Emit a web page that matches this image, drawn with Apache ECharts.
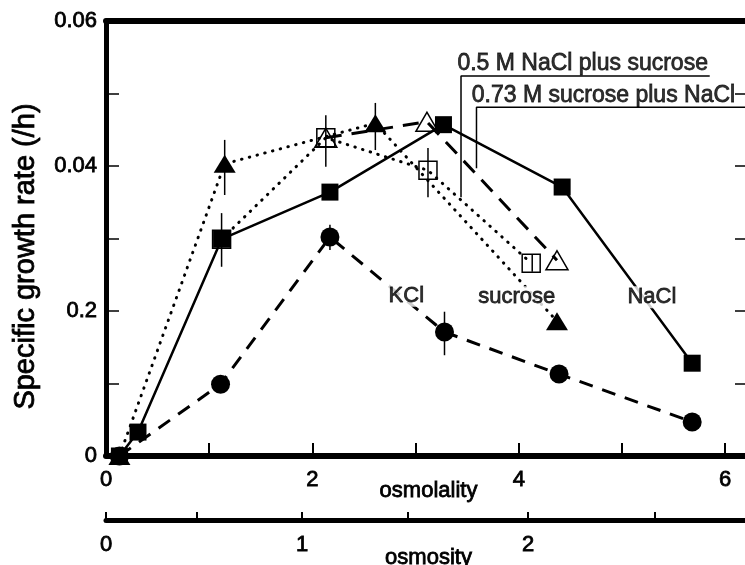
<!DOCTYPE html>
<html>
<head>
<meta charset="utf-8">
<script src="https://cdn.jsdelivr.net/npm/echarts@6/dist/echarts.min.js"></script>
<style>
  html, body { margin: 0; padding: 0; background: #fff; }
  #chart { width: 745px; height: 565px; }
</style>
</head>
<body>
<div id="chart"></div>
<script>
// values (x = osmolality, y = specific growth rate /h)
const naclX = [0.13, 0.31, 1.12, 2.17, 3.27, 4.42, 5.68];
const naclY = [0, 0.0033, 0.0299, 0.0364, 0.0457, 0.0371, 0.0128];
const kclX = [0.13, 1.11, 2.17, 3.28, 4.39, 5.68];
const kclY = [0, 0.0099, 0.0302, 0.0171, 0.0113, 0.0047];
const sucX = [0.13, 1.15, 2.61, 4.37];
const sucY = [0, 0.0403, 0.0459, 0.0186];
const naclSucX = [1.12, 2.13, 3.12, 4.12];
const naclSucY = [0.0299, 0.0439, 0.0394, 0.0266];
const sucNaclX = [2.13, 3.11, 4.37];
const sucNaclY = [0.0439, 0.0461, 0.027];

// error bars: x, low, high
const errX = [1.15, 1.12, 2.13, 2.61, 3.12, 3.28, 2.17, 4.13];
const errLo = [0.036, 0.0261, 0.0399, 0.0422, 0.0357, 0.0139, 0.0284, 0.0254];
const errHi = [0.0436, 0.0335, 0.047, 0.0487, 0.0425, 0.0199, 0.0319, 0.0278];

// tick labels
const xLabelVals = [0, 2, 4, 6];
const yLabelVals = [0, 0.02, 0.04, 0.06];
const yLabelText = ['0', '0.2', '0.04', '0.06'];
// osmosity ticks, placed on the osmolality scale
const osmosityTickPos = [0, 0.88, 1.9, 2.92, 4.09, 5.32];
const osmosityLabelPos = [0, 1.9, 4.09];
const osmosityLabelText = ['0', '1', '2'];

// in-plot text
const curveNames = ['KCl', 'sucrose', 'NaCl'];
const curveNameX = [2.91, 3.98, 5.29];
const curveNameY = [0.0221, 0.0219, 0.0219];
const noteText = ['0.5 M NaCl plus sucrose', '0.73 M sucrose plus NaCl'];
const noteX = [3.4, 3.54];
const noteY = [0.0541, 0.0497];
const leader1 = [[3.44, 0.0357], [3.44, 0.0524], [5.85, 0.0524]];
const leader2 = [[3.59, 0.0397], [3.59, 0.0481], [6.25, 0.0481]];

const font = 'Liberation Sans, Arial, Helvetica, sans-serif';
const ink = { color: '#000', fontFamily: font, textBorderColor: '#000', textBorderWidth: 0.8 };
const zip = (xs, ys) => xs.map((x, i) => [x, ys[i]]);

const chart = echarts.init(document.getElementById('chart'));

const baseSeries = {
  type: 'line',
  xAxisIndex: 0,
  yAxisIndex: 0,
  silent: true,
  emphasis: { disabled: true },
  showAllSymbol: true
};

chart.setOption({
  animation: false,
  backgroundColor: '#fff',
  textStyle: { fontFamily: font, color: '#000' },
  grid: [
    { left: 106, right: -6, top: 21, bottom: 109, outerBoundsMode: 'none' },
    { left: 106, right: -6, top: 500, bottom: 45, outerBoundsMode: 'none' }
  ],
  xAxis: [
    {
      gridIndex: 0,
      type: 'value',
      position: 'bottom',
      min: 0,
      max: 6.25,
      interval: 1,
      name: 'osmolality',
      nameLocation: 'middle',
      nameGap: 24,
      nameMoveOverlap: false,
      nameTextStyle: Object.assign({ fontSize: 22 }, ink),
      axisLine: { onZero: false, lineStyle: { color: '#000', width: 6 } },
      axisTick: { inside: true, length: 13, lineStyle: { color: '#000', width: 2 } },
      axisLabel: Object.assign({ customValues: xLabelVals, margin: 13, fontSize: 22 }, ink),
      splitLine: { show: false }
    },
    {
      gridIndex: 0,
      type: 'value',
      position: 'top',
      min: 0,
      max: 6.25,
      axisLine: { onZero: false, lineStyle: { color: '#000', width: 6 } },
      axisTick: { show: false },
      axisLabel: { show: false },
      splitLine: { show: false }
    },
    {
      gridIndex: 1,
      type: 'value',
      position: 'bottom',
      min: 0,
      max: 6.25,
      name: 'osmosity',
      nameLocation: 'middle',
      nameGap: 27,
      nameMoveOverlap: false,
      nameTextStyle: Object.assign({ fontSize: 22 }, ink),
      axisLine: { onZero: false, lineStyle: { color: '#000', width: 5 } },
      axisTick: {
        inside: true,
        length: 8,
        customValues: osmosityTickPos,
        lineStyle: { color: '#000', width: 2 }
      },
      axisLabel: Object.assign({
        customValues: osmosityLabelPos,
        margin: 14,
        fontSize: 22,
        formatter: v => {
          const i = osmosityLabelPos.findIndex(p => Math.abs(p - v) < 1e-6);
          return i >= 0 ? osmosityLabelText[i] : '';
        }
      }, ink),
      splitLine: { show: false }
    }
  ],
  yAxis: [
    {
      gridIndex: 0,
      type: 'value',
      position: 'left',
      min: 0,
      max: 0.06,
      interval: 0.01,
      name: 'Specific growth rate (/h)',
      nameLocation: 'middle',
      nameGap: 66,
      nameMoveOverlap: false,
      nameTextStyle: Object.assign({ fontSize: 29, padding: [0, 36, 0, 0] }, ink),
      axisLine: { onZero: false, lineStyle: { color: '#000', width: 5 } },
      axisTick: { inside: true, length: 13, lineStyle: { color: '#000', width: 1.5 } },
      axisLabel: Object.assign({
        customValues: yLabelVals,
        margin: 9,
        fontSize: 22,
        formatter: v => {
          const i = yLabelVals.findIndex(t => Math.abs(t - v) < 1e-9);
          return i >= 0 ? yLabelText[i] : '';
        }
      }, ink),
      splitLine: { show: false }
    },
    {
      gridIndex: 0,
      type: 'value',
      position: 'right',
      min: 0,
      max: 0.06,
      interval: 0.01,
      axisLine: { onZero: false, lineStyle: { color: '#000', width: 5 } },
      axisTick: { inside: true, length: 16, lineStyle: { color: '#000', width: 1.5 } },
      axisLabel: { show: false },
      splitLine: { show: false }
    },
    {
      gridIndex: 1,
      type: 'value',
      min: 0,
      max: 1,
      show: false
    }
  ],
  series: [
    {
      type: 'custom',
      name: 'error',
      xAxisIndex: 0,
      yAxisIndex: 0,
      silent: true,
      z: 1,
      data: errX.map((x, i) => [x, errLo[i], errHi[i]]),
      encode: { x: 0, y: [1, 2] },
      renderItem: (params, api) => {
        const p1 = api.coord([api.value(0), api.value(1)]);
        const p2 = api.coord([api.value(0), api.value(2)]);
        return {
          type: 'line',
          shape: { x1: p1[0], y1: p1[1], x2: p2[0], y2: p2[1] },
          style: { stroke: '#000', lineWidth: 1.5 }
        };
      }
    },
    Object.assign({}, baseSeries, {
      name: 'NaCl',
      z: 3,
      data: zip(naclX, naclY),
      symbol: 'rect',
      symbolSize: 17,
      itemStyle: { color: '#000' },
      lineStyle: { color: '#000', width: 2.5, type: 'solid' }
    }),
    Object.assign({}, baseSeries, {
      name: 'KCl',
      z: 3,
      data: zip(kclX, kclY),
      symbol: 'circle',
      symbolSize: 19,
      itemStyle: { color: '#000' },
      lineStyle: { color: '#000', width: 3, type: [14, 10] }
    }),
    Object.assign({}, baseSeries, {
      name: 'sucrose',
      z: 3,
      data: zip(sucX, sucY),
      symbol: 'triangle',
      symbolSize: [22, 18],
      itemStyle: { color: '#000' },
      lineStyle: { color: '#000', width: 3, type: [0.5, 7.5], cap: 'round' }
    }),
    Object.assign({}, baseSeries, {
      name: '0.5 M NaCl plus sucrose',
      z: 4,
      data: zip(naclSucX, naclSucY),
      symbol: 'rect',
      symbolSize: 18,
      itemStyle: { color: 'rgba(0,0,0,0)', borderColor: '#000', borderWidth: 1.5 },
      lineStyle: { color: '#000', width: 3, type: [0.5, 7.5], cap: 'round' }
    }),
    Object.assign({}, baseSeries, {
      name: '0.73 M sucrose plus NaCl',
      z: 4,
      data: zip(sucNaclX, sucNaclY),
      symbol: 'triangle',
      symbolSize: [22, 19],
      itemStyle: { color: 'rgba(0,0,0,0)', borderColor: '#000', borderWidth: 1.5 },
      lineStyle: { color: '#000', width: 3, type: [16, 10] }
    }),
    Object.assign({}, baseSeries, {
      name: 'leader1',
      z: 2,
      data: leader1,
      symbol: 'none',
      lineStyle: { color: '#000', width: 1.5 }
    }),
    Object.assign({}, baseSeries, {
      name: 'leader2',
      z: 2,
      data: leader2,
      symbol: 'none',
      lineStyle: { color: '#000', width: 1.5 }
    }),
    {
      type: 'scatter',
      name: 'curve names',
      xAxisIndex: 0,
      yAxisIndex: 0,
      silent: true,
      z: 6,
      symbolSize: 1,
      itemStyle: { color: 'rgba(0,0,0,0)' },
      data: curveNames.map((n, i) => ({ name: n, value: [curveNameX[i], curveNameY[i]] })),
      label: Object.assign({
        show: true,
        position: 'inside',
        formatter: '{b}',
        fontSize: 22,
        backgroundColor: '#fff',
        padding: [0, 1]
      }, ink)
    },
    {
      type: 'scatter',
      name: 'notes',
      xAxisIndex: 0,
      yAxisIndex: 0,
      silent: true,
      z: 6,
      symbolSize: 1,
      itemStyle: { color: 'rgba(0,0,0,0)' },
      data: noteText.map((n, i) => ({ name: n, value: [noteX[i], noteY[i]] })),
      label: Object.assign({
        show: true,
        position: 'right',
        distance: 0,
        formatter: '{b}',
        fontSize: 23
      }, ink)
    }
  ]
});
</script>
</body>
</html>
